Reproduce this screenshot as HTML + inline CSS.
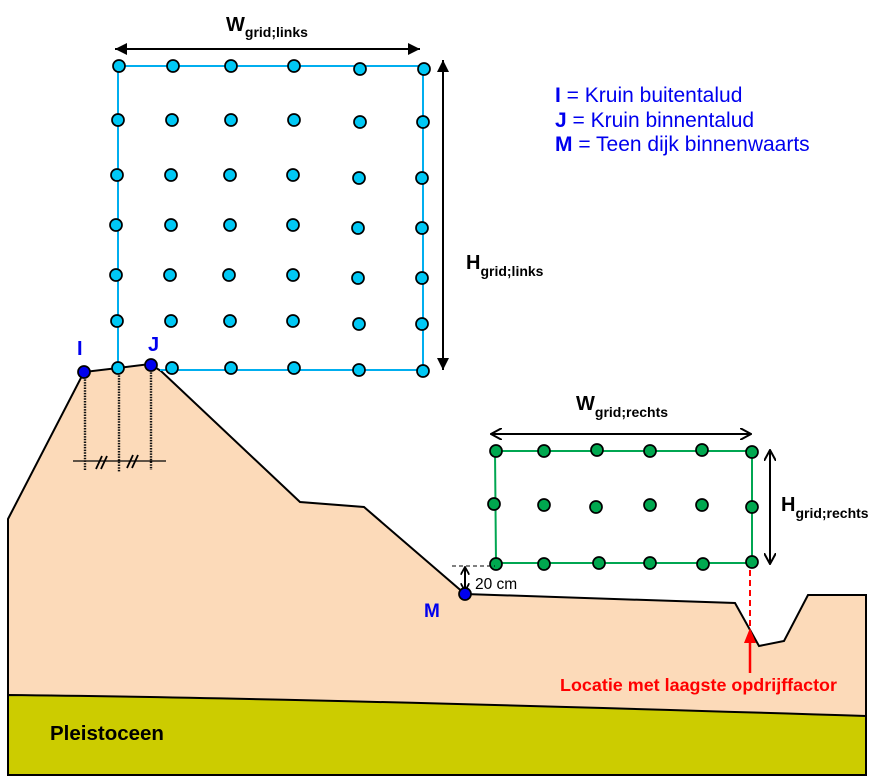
<!DOCTYPE html>
<html><head><meta charset="utf-8"><style>
html,body{margin:0;padding:0;background:#fff;}
svg{display:block;}
text{font-family:"Liberation Sans",Arial,sans-serif;}
</style></head><body>
<svg width="877" height="783" viewBox="0 0 877 783" xmlns="http://www.w3.org/2000/svg">
<defs>
<marker id="fa" viewBox="0 0 12 12" refX="12" refY="6" markerWidth="12" markerHeight="12" markerUnits="userSpaceOnUse" orient="auto-start-reverse"><path d="M0,0 L12,6 L0,12 z" fill="#000"/></marker>
<marker id="oa" viewBox="0 0 12 12" refX="11" refY="6" markerWidth="12" markerHeight="12" markerUnits="userSpaceOnUse" orient="auto-start-reverse"><path d="M0,0 L11,6 L0,12" fill="none" stroke="#000" stroke-width="2"/></marker>
<marker id="oas" viewBox="0 0 10 10" refX="9" refY="5" markerWidth="9" markerHeight="9" markerUnits="userSpaceOnUse" orient="auto-start-reverse"><path d="M0,0 L9,5 L0,10" fill="none" stroke="#000" stroke-width="2"/></marker>
</defs>

<!-- soil body -->
<path d="M8,519 L84,372 L118,368 L150,364 L161,371 L300,502 L364,507 L465,594 L735,603 L759,646 L784,641 L808,595 L866,595 L866,775 L8,775 Z" fill="#FCDAB9" stroke="#000" stroke-width="2" stroke-linejoin="miter"/>
<!-- pleistoceen -->
<path d="M8,695 Q300,698 866,716 L866,775 L8,775 Z" fill="#CCCC00" stroke="#000" stroke-width="2"/>
<text x="50" y="740" font-size="20.5" font-weight="bold" fill="#000">Pleistoceen</text>

<!-- dotted verticals and measure line -->
<g stroke="#111" stroke-width="2.4" stroke-dasharray="1.5,1.2">
<line x1="85" y1="374" x2="85" y2="471"/>
<line x1="119" y1="370" x2="119" y2="472"/>
<line x1="151" y1="367" x2="151" y2="470"/>
</g>
<line x1="73" y1="461" x2="166" y2="461" stroke="#000" stroke-width="1.3"/>
<g stroke="#000" stroke-width="1.8">
<line x1="96" y1="469" x2="102" y2="456"/><line x1="101" y1="469" x2="107" y2="456"/>
<line x1="127" y1="468" x2="133" y2="455"/><line x1="132" y1="468" x2="138" y2="455"/>
</g>

<!-- left grid -->
<g fill="none" stroke="#00AEEF" stroke-width="2">
<polyline points="118,368 118,66 423,66 423,370 160,370"/>
</g>
<g fill="#00C8F5" stroke="#000" stroke-width="1.7">
<circle cx="119" cy="66" r="6"/><circle cx="173" cy="66" r="6"/><circle cx="231" cy="66" r="6"/><circle cx="294" cy="66" r="6"/><circle cx="360" cy="69" r="6"/><circle cx="424" cy="69" r="6"/>
<circle cx="118" cy="120" r="6"/><circle cx="172" cy="120" r="6"/><circle cx="231" cy="120" r="6"/><circle cx="294" cy="120" r="6"/><circle cx="360" cy="122" r="6"/><circle cx="423" cy="122" r="6"/>
<circle cx="117" cy="175" r="6"/><circle cx="171" cy="175" r="6"/><circle cx="230" cy="175" r="6"/><circle cx="293" cy="175" r="6"/><circle cx="359" cy="178" r="6"/><circle cx="422" cy="178" r="6"/>
<circle cx="116" cy="225" r="6"/><circle cx="171" cy="225" r="6"/><circle cx="230" cy="225" r="6"/><circle cx="293" cy="225" r="6"/><circle cx="358" cy="228" r="6"/><circle cx="422" cy="228" r="6"/>
<circle cx="116" cy="275" r="6"/><circle cx="170" cy="275" r="6"/><circle cx="229" cy="275" r="6"/><circle cx="293" cy="275" r="6"/><circle cx="358" cy="278" r="6"/><circle cx="422" cy="278" r="6"/>
<circle cx="117" cy="321" r="6"/><circle cx="171" cy="321" r="6"/><circle cx="230" cy="321" r="6"/><circle cx="293" cy="321" r="6"/><circle cx="359" cy="324" r="6"/><circle cx="422" cy="324" r="6"/>
<circle cx="118" cy="368" r="6"/><circle cx="172" cy="368" r="6"/><circle cx="231" cy="368" r="6"/><circle cx="294" cy="368" r="6"/><circle cx="359" cy="370" r="6"/><circle cx="423" cy="371" r="6"/>
</g>
<!-- I and J -->
<g fill="#0000EE" stroke="#000" stroke-width="1.7">
<circle cx="84" cy="372" r="6"/><circle cx="151" cy="365" r="6"/>
</g>
<text x="77" y="355" font-size="20" font-weight="bold" fill="#0000EE">I</text>
<text x="148" y="351" font-size="20" font-weight="bold" fill="#0000EE">J</text>

<!-- W links -->
<line x1="115" y1="49" x2="420" y2="49" stroke="#000" stroke-width="2" marker-start="url(#fa)" marker-end="url(#fa)"/>
<text x="226" y="31" font-size="20" font-weight="bold" fill="#000">W<tspan font-size="14" dy="6">grid;links</tspan></text>
<!-- H links -->
<line x1="443" y1="60" x2="443" y2="370" stroke="#000" stroke-width="2" marker-start="url(#fa)" marker-end="url(#fa)"/>
<text x="466" y="269" font-size="20" font-weight="bold" fill="#000">H<tspan font-size="14" dy="7">grid;links</tspan></text>

<!-- legend -->
<g font-size="21" fill="#0000EE">
<text x="555" y="102"><tspan font-weight="bold">I</tspan> = Kruin buitentalud</text>
<text x="555" y="127"><tspan font-weight="bold">J</tspan> = Kruin binnentalud</text>
<text x="555" y="151"><tspan font-weight="bold">M</tspan> = Teen dijk binnenwaarts</text>
</g>

<!-- right grid -->
<polyline points="495,451 752,451 752,563 496,563 495,451" fill="none" stroke="#00A651" stroke-width="2"/>
<g fill="#00A84F" stroke="#000" stroke-width="1.7">
<circle cx="496" cy="451" r="6"/><circle cx="544" cy="451" r="6"/><circle cx="597" cy="450" r="6"/><circle cx="650" cy="451" r="6"/><circle cx="702" cy="450" r="6"/><circle cx="752" cy="452" r="6"/>
<circle cx="494" cy="504" r="6"/><circle cx="544" cy="505" r="6"/><circle cx="596" cy="507" r="6"/><circle cx="650" cy="505" r="6"/><circle cx="702" cy="505" r="6"/><circle cx="752" cy="507" r="6"/>
<circle cx="496" cy="564" r="6"/><circle cx="544" cy="564" r="6"/><circle cx="599" cy="563" r="6"/><circle cx="650" cy="563" r="6"/><circle cx="703" cy="564" r="6"/><circle cx="752" cy="562" r="6"/>
</g>
<!-- W rechts -->
<line x1="491" y1="434" x2="751" y2="434" stroke="#000" stroke-width="2" marker-start="url(#oa)" marker-end="url(#oa)"/>
<text x="576" y="410" font-size="20" font-weight="bold" fill="#000">W<tspan font-size="14" dy="7">grid;rechts</tspan></text>
<!-- H rechts -->
<line x1="770" y1="450" x2="770" y2="564" stroke="#000" stroke-width="2" marker-start="url(#oa)" marker-end="url(#oa)"/>
<text x="781" y="511" font-size="20" font-weight="bold" fill="#000">H<tspan font-size="14" dy="7">grid;rechts</tspan></text>

<!-- 20 cm -->
<line x1="452" y1="566" x2="495" y2="566" stroke="#000" stroke-width="1" stroke-dasharray="4,3"/>
<line x1="465" y1="567" x2="465" y2="591" stroke="#000" stroke-width="2" marker-start="url(#oas)" marker-end="url(#oas)"/>
<text x="475" y="589" font-size="15.5" fill="#000">20 cm</text>
<!-- M -->
<circle cx="465" cy="594" r="6" fill="#0000EE" stroke="#000" stroke-width="1.7"/>
<text x="424" y="617" font-size="19" font-weight="bold" fill="#0000EE">M</text>

<!-- red -->
<line x1="750" y1="570" x2="750" y2="630" stroke="#FF0000" stroke-width="2" stroke-dasharray="6,4"/>
<line x1="750" y1="673" x2="750" y2="640" stroke="#FF0000" stroke-width="2.5"/>
<path d="M750,628 L744,643 L756,643 Z" fill="#FF0000"/>
<text x="560" y="691" font-size="17.5" font-weight="bold" fill="#FF0000" textLength="277" lengthAdjust="spacingAndGlyphs">Locatie met laagste opdrijffactor</text>
</svg>
</body></html>
